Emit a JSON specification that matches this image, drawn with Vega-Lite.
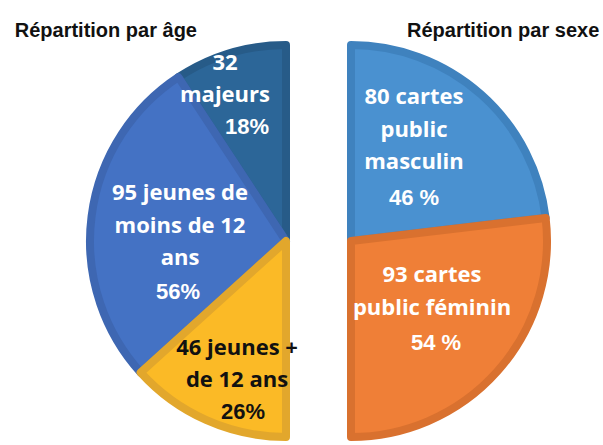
{
  "$schema": "https://vega.github.io/schema/vega-lite/v6.json",
  "width": 603,
  "height": 445,
  "autosize": {"type": "fit", "contains": "padding"},
  "padding": {"top": 37, "left": 0, "right": 0, "bottom": 0},
  "background": "white",
  "config": {"view": {"stroke": null}},
  "datasets": {
    "age": [
      {"groupe": "âge", "cat": "majeurs", "n": 32, "ordre": 1, "label": "32\nmajeurs", "pct": "18%"},
      {"groupe": "âge", "cat": "jeunes -12", "n": 95, "ordre": 2, "label": "95  jeunes de\nmoins de 12\nans", "pct": "56%"},
      {"groupe": "âge", "cat": "jeunes +12", "n": 46, "ordre": 3, "label": "46  jeunes +\nde 12 ans", "pct": "26%"}
    ],
    "sexe": [
      {"groupe": "sexe", "cat": "masculin", "n": 80, "ordre": 1, "label": "80 cartes\npublic\nmasculin", "pct": "46 %"},
      {"groupe": "sexe", "cat": "féminin", "n": 93, "ordre": 2, "label": "93 cartes\npublic féminin", "pct": "54 %"}
    ],
    "titres": [
      {"groupe": "âge", "titre": "Répartition par âge"},
      {"groupe": "sexe", "titre": "Répartition par sexe"}
    ]
  },
  "layer": [
    {
      "data": {"name": "age"},
      "mark": {"type": "arc", "outerRadius": 196, "strokeWidth": 8, "strokeJoin": "round"},
      "encoding": {
        "x": {"field": "groupe", "type": "nominal", "scale": {"type": "point", "domain": ["âge", "sexe"], "range": [286, 351], "padding": 0}, "axis": null},
        "theta": {"field": "n", "type": "quantitative", "stack": true, "scale": {"range": [0, -3.14159265]}},
        "order": {"field": "ordre", "type": "quantitative"},
        "color": {"field": "cat", "type": "nominal", "legend": null, "scale": {"domain": ["majeurs", "jeunes -12", "jeunes +12", "masculin", "féminin"], "range": ["#2C6698", "#4472C4", "#FBBA26", "#4A91D0", "#EF7F37"]}},
        "stroke": {"field": "cat", "type": "nominal", "legend": null, "scale": {"domain": ["majeurs", "jeunes -12", "jeunes +12", "masculin", "féminin"], "range": ["#275B88", "#3E67B2", "#E2A72C", "#3F82BE", "#D9712F"]}}
      }
    },
    {
      "data": {"name": "sexe"},
      "mark": {"type": "arc", "outerRadius": 196, "strokeWidth": 8, "strokeJoin": "round"},
      "encoding": {
        "x": {"field": "groupe", "type": "nominal", "axis": null},
        "theta": {"field": "n", "type": "quantitative", "stack": true, "scale": {"range": [0, 3.14159265]}},
        "order": {"field": "ordre", "type": "quantitative"},
        "color": {"field": "cat", "type": "nominal", "legend": null},
        "stroke": {"field": "cat", "type": "nominal", "legend": null}
      }
    },
    {
      "data": {"name": "titres"},
      "transform": [{"filter": "datum.groupe === 'âge'"}],
      "mark": {"type": "text", "font": "Liberation Sans", "fontWeight": "bold", "fontSize": 20, "align": "right", "baseline": "alphabetic", "dx": -89, "dy": -204, "fill": "#111111"},
      "encoding": {"x": {"field": "groupe", "type": "nominal"}, "text": {"field": "titre"}}
    },
    {
      "data": {"name": "titres"},
      "transform": [{"filter": "datum.groupe === 'sexe'"}],
      "mark": {"type": "text", "font": "Liberation Sans", "fontWeight": "bold", "fontSize": 20, "align": "left", "baseline": "alphabetic", "dx": 56, "dy": -204, "fill": "#111111"},
      "encoding": {"x": {"field": "groupe", "type": "nominal"}, "text": {"field": "titre"}}
    },
    {
      "data": {"name": "age"},
      "transform": [{"filter": "datum.cat === 'majeurs'"}],
      "mark": {"type": "text", "font": "Open Sans", "fontWeight": "bold", "fontSize": 22, "lineHeight": 32, "lineBreak": "\n", "align": "center", "baseline": "middle", "dx": -61, "dy": -178, "fill": "white"},
      "encoding": {"x": {"field": "groupe", "type": "nominal"}, "text": {"field": "label"}}
    },
    {
      "data": {"name": "age"},
      "transform": [{"filter": "datum.cat === 'majeurs'"}],
      "mark": {"type": "text", "font": "Liberation Sans", "fontWeight": "bold", "fontSize": 22, "align": "center", "baseline": "middle", "dx": -39, "dy": -114, "fill": "white"},
      "encoding": {"x": {"field": "groupe", "type": "nominal"}, "text": {"field": "pct"}}
    },
    {
      "data": {"name": "age"},
      "transform": [{"filter": "datum.cat === 'jeunes -12'"}],
      "mark": {"type": "text", "font": "Open Sans", "fontWeight": "bold", "fontSize": 22, "lineHeight": 32.5, "lineBreak": "\n", "align": "center", "baseline": "middle", "dx": -106, "dy": -48, "fill": "white"},
      "encoding": {"x": {"field": "groupe", "type": "nominal"}, "text": {"field": "label"}}
    },
    {
      "data": {"name": "age"},
      "transform": [{"filter": "datum.cat === 'jeunes -12'"}],
      "mark": {"type": "text", "font": "Liberation Sans", "fontWeight": "bold", "fontSize": 22, "align": "center", "baseline": "middle", "dx": -108, "dy": 51, "fill": "white"},
      "encoding": {"x": {"field": "groupe", "type": "nominal"}, "text": {"field": "pct"}}
    },
    {
      "data": {"name": "age"},
      "transform": [{"filter": "datum.cat === 'jeunes +12'"}],
      "mark": {"type": "text", "font": "Open Sans", "fontWeight": "bold", "fontSize": 22, "lineHeight": 32, "lineBreak": "\n", "align": "center", "baseline": "middle", "dx": -49, "dy": 107, "fill": "#111111"},
      "encoding": {"x": {"field": "groupe", "type": "nominal"}, "text": {"field": "label"}}
    },
    {
      "data": {"name": "age"},
      "transform": [{"filter": "datum.cat === 'jeunes +12'"}],
      "mark": {"type": "text", "font": "Liberation Sans", "fontWeight": "bold", "fontSize": 22, "align": "center", "baseline": "middle", "dx": -43, "dy": 171, "fill": "#111111"},
      "encoding": {"x": {"field": "groupe", "type": "nominal"}, "text": {"field": "pct"}}
    },
    {
      "data": {"name": "sexe"},
      "transform": [{"filter": "datum.cat === 'masculin'"}],
      "mark": {"type": "text", "font": "Open Sans", "fontWeight": "bold", "fontSize": 22, "lineHeight": 32.5, "lineBreak": "\n", "align": "center", "baseline": "middle", "dx": 63, "dy": -144, "fill": "white"},
      "encoding": {"x": {"field": "groupe", "type": "nominal"}, "text": {"field": "label"}}
    },
    {
      "data": {"name": "sexe"},
      "transform": [{"filter": "datum.cat === 'masculin'"}],
      "mark": {"type": "text", "font": "Liberation Sans", "fontWeight": "bold", "fontSize": 22, "align": "center", "baseline": "middle", "dx": 63, "dy": -43, "fill": "white"},
      "encoding": {"x": {"field": "groupe", "type": "nominal"}, "text": {"field": "pct"}}
    },
    {
      "data": {"name": "sexe"},
      "transform": [{"filter": "datum.cat === 'féminin'"}],
      "mark": {"type": "text", "font": "Open Sans", "fontWeight": "bold", "fontSize": 22, "lineHeight": 32.5, "lineBreak": "\n", "align": "center", "baseline": "middle", "dx": 81, "dy": 34, "fill": "white"},
      "encoding": {"x": {"field": "groupe", "type": "nominal"}, "text": {"field": "label"}}
    },
    {
      "data": {"name": "sexe"},
      "transform": [{"filter": "datum.cat === 'féminin'"}],
      "mark": {"type": "text", "font": "Liberation Sans", "fontWeight": "bold", "fontSize": 22, "align": "center", "baseline": "middle", "dx": 85, "dy": 102, "fill": "white"},
      "encoding": {"x": {"field": "groupe", "type": "nominal"}, "text": {"field": "pct"}}
    }
  ],
  "resolve": {"scale": {"theta": "independent"}}
}
